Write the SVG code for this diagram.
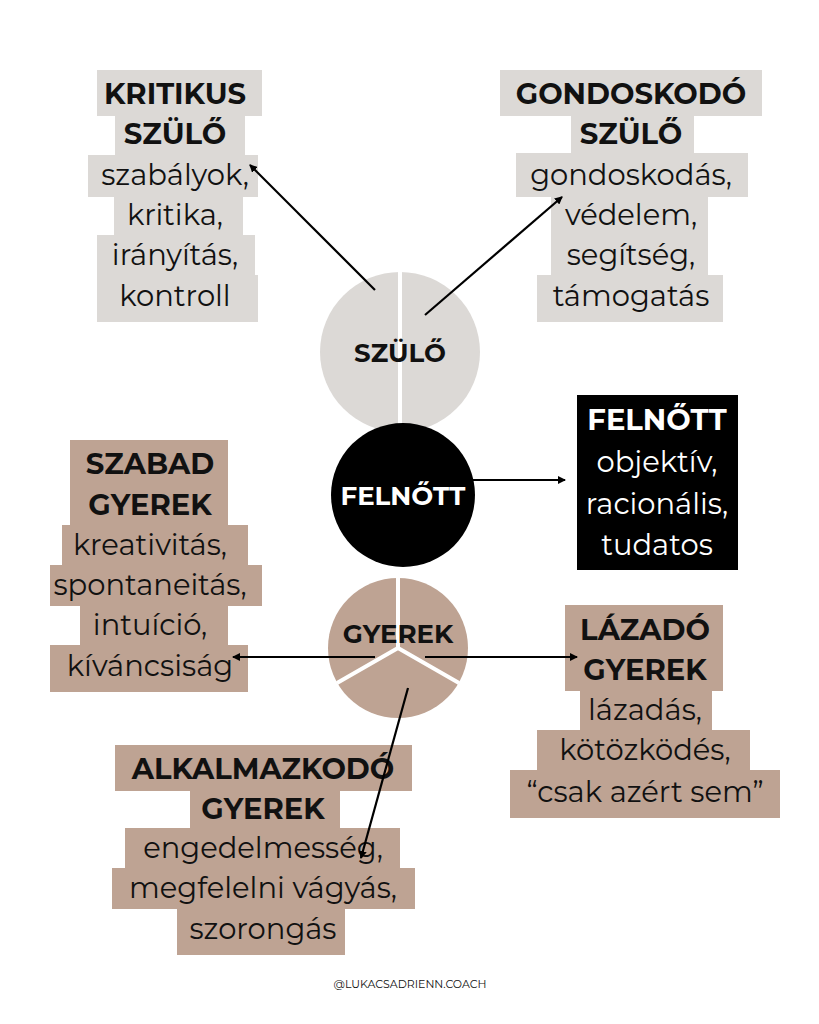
<svg xmlns="http://www.w3.org/2000/svg" width="819" height="1024" viewBox="0 0 819 1024">
<style>
.g{fill:#dcd9d6}.b{fill:#bea393}.k{fill:#000}
text{font-family:Montserrat,"Open Sans","Liberation Sans",sans-serif;font-size:29px;text-anchor:middle;fill:#111}
.h{font-weight:bold}.w{fill:#fff}
.c{stroke:#000;stroke-width:2.2;fill:none;marker-end:url(#a)}
</style>
<defs><marker id="a" markerWidth="8" markerHeight="8" refX="7" refY="4" orient="auto" markerUnits="userSpaceOnUse"><path d="M0,0L8,4L0,8z" fill="#000"/></marker></defs>
<rect width="819" height="1024" fill="#fff"/>
<g id="kritikus">
<rect class="g" x="97" y="70" width="165" height="46"/><rect class="g" x="115" y="115" width="130" height="41"/><rect class="g" x="88" y="155" width="170" height="42"/><rect class="g" x="114" y="196" width="129" height="40"/><rect class="g" x="97" y="235" width="158" height="41"/><rect class="g" x="97" y="275" width="161" height="47"/>
<text class="h" x="175" y="104">KRITIKUS</text><text class="h" x="175" y="144">SZÜLŐ</text><text x="175" y="185">szabályok,</text><text x="175" y="225">kritika,</text><text x="175" y="265">irányítás,</text><text x="175" y="306">kontroll</text>
</g>
<g id="gondoskodo">
<rect class="g" x="500" y="70" width="262" height="46"/><rect class="g" x="571" y="115" width="123" height="40"/><rect class="g" x="516" y="153" width="232" height="44"/><rect class="g" x="551" y="196" width="157" height="40"/><rect class="g" x="551" y="235" width="157" height="41"/><rect class="g" x="537" y="275" width="186" height="47"/>
<text class="h" x="631" y="104">GONDOSKODÓ</text><text class="h" x="631" y="144">SZÜLŐ</text><text x="631" y="185">gondoskodás,</text><text x="631" y="225">védelem,</text><text x="631" y="265">segítség,</text><text x="631" y="306">támogatás</text>
</g>
<g id="szulo">
<circle class="g" cx="400" cy="352" r="80"/><line x1="400" y1="272" x2="400" y2="432" stroke="#fff" stroke-width="4"/>
<text class="h" x="400" y="362" style="font-size:26px">SZÜLŐ</text>
</g>
<g id="felnott">
<circle class="k" cx="403" cy="495" r="72"/><text class="h w" x="403" y="505" style="font-size:26px">FELNŐTT</text>
</g>
<g id="felnott-box">
<rect class="k" x="577" y="395" width="161" height="175"/>
<text class="h w" x="657" y="430">FELNŐTT</text><text class="w" x="657" y="472">objektív,</text><text class="w" x="657" y="514">racionális,</text><text class="w" x="657" y="555">tudatos</text>
</g>
<g id="gyerek">
<circle class="b" cx="398" cy="648" r="70"/>
<path d="M398,648V578M398,648L337,683M398,648L459,683" stroke="#fff" stroke-width="4"/>
<text class="h" x="398" y="643" style="font-size:26px">GYEREK</text>
</g>
<g id="szabad">
<rect class="b" x="70" y="440" width="158" height="46"/><rect class="b" x="70" y="485" width="158" height="41"/><rect class="b" x="62" y="525" width="186" height="41"/><rect class="b" x="50" y="565" width="212" height="41"/><rect class="b" x="80" y="605" width="148" height="41"/><rect class="b" x="50" y="645" width="198" height="47"/>
<text class="h" x="150" y="474">SZABAD</text><text class="h" x="150" y="515">GYEREK</text><text x="150" y="555">kreativitás,</text><text x="150" y="595">spontaneitás,</text><text x="150" y="635">intuíció,</text><text x="150" y="676">kíváncsiság</text>
</g>
<g id="lazado">
<rect class="b" x="565" y="605" width="158" height="46"/><rect class="b" x="565" y="650" width="158" height="41"/><rect class="b" x="580" y="690" width="132" height="41"/><rect class="b" x="537" y="730" width="213" height="41"/><rect class="b" x="510" y="770" width="270" height="48"/>
<text class="h" x="645" y="640">LÁZADÓ</text><text class="h" x="645" y="680">GYEREK</text><text x="645" y="720">lázadás,</text><text x="645" y="760">kötözködés,</text><text x="645" y="802">“csak azért sem”</text>
</g>
<g id="alkalmazkodo">
<rect class="b" x="115" y="745" width="297" height="46"/><rect class="b" x="190" y="790" width="150" height="39"/><rect class="b" x="125" y="828" width="275" height="41"/><rect class="b" x="112" y="868" width="303" height="41"/><rect class="b" x="177" y="908" width="168" height="47"/>
<text class="h" x="263" y="779">ALKALMAZKODÓ</text><text class="h" x="263" y="819">GYEREK</text><text x="263" y="858">engedelmesség,</text><text x="263" y="898">megfelelni vágyás,</text><text x="263" y="939">szorongás</text>
</g>
<g id="connectors">
<line class="c" x1="375" y1="290" x2="250" y2="165"/>
<line class="c" x1="425" y1="315" x2="562" y2="197"/>
<line class="c" x1="472" y1="480" x2="565" y2="480"/>
<line class="c" x1="375" y1="657" x2="233" y2="657"/>
<line class="c" x1="425" y1="657" x2="577" y2="657"/>
<line class="c" x1="408" y1="688" x2="361" y2="858"/>
</g>
<text x="410" y="988" style="font-size:11px">@LUKACSADRIENN.COACH</text>
</svg>
